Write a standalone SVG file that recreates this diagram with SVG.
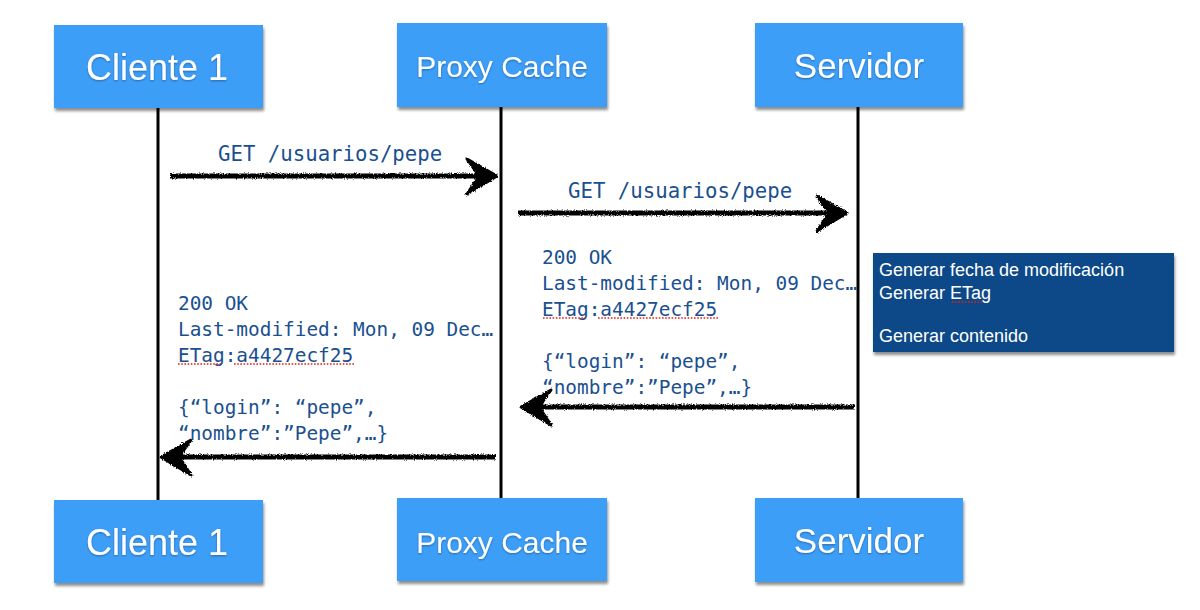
<svg xmlns="http://www.w3.org/2000/svg" width="1200" height="610" viewBox="0 0 1200 610">
<defs>
<style>
.box{fill:#3d9ef8;}
.lbl{font-family:"Liberation Sans",Arial,sans-serif;fill:#ffffff;text-anchor:middle;}
.mono{font-family:"DejaVu Sans Mono",monospace;fill:#1a5090;}
.life{stroke:#000;stroke-width:3;fill:none;}
.shaft{stroke:#000;stroke-width:5;fill:none;}
.head{fill:#000;stroke:#000;stroke-width:3;stroke-linejoin:round;}
.spell{stroke:#e0201c;stroke-width:1.6;stroke-dasharray:1.6 1.6;fill:none;}
.note{font-family:"Liberation Sans",Arial,sans-serif;fill:#ffffff;font-size:18px;}
</style>
<filter id="shadow" x="-5%" y="-5%" width="115%" height="120%">
<feGaussianBlur in="SourceAlpha" stdDeviation="1.8"/>
<feOffset dx="1" dy="3" result="b"/>
<feComponentTransfer><feFuncA type="linear" slope="0.45"/></feComponentTransfer>
<feMerge><feMergeNode/><feMergeNode in="SourceGraphic"/></feMerge>
</filter>
<filter id="tshadow" x="-5%" y="-10%" width="110%" height="130%">
<feGaussianBlur in="SourceAlpha" stdDeviation="1"/>
<feOffset dx="0" dy="1"/>
<feComponentTransfer><feFuncA type="linear" slope="0.35"/></feComponentTransfer>
<feMerge><feMergeNode/><feMergeNode in="SourceGraphic"/></feMerge>
</filter>
<filter id="rough" x="-5%" y="-50%" width="110%" height="200%">
<feTurbulence type="fractalNoise" baseFrequency="0.9" numOctaves="2" seed="3" result="n"/>
<feDisplacementMap in="SourceGraphic" in2="n" scale="3.5" xChannelSelector="R" yChannelSelector="G"/>
</filter>
</defs>
<rect width="1200" height="610" fill="#ffffff"/>

<g id="lifelines">
<line class="life" x1="158" y1="106" x2="158" y2="503"/>
<line class="life" x1="501" y1="105" x2="501" y2="500"/>
<line class="life" x1="858" y1="105" x2="858" y2="500"/>
</g>

<g id="cliente1-top" filter="url(#shadow)">
<rect class="box" x="54" y="25" width="209" height="83"/>
<text class="lbl" x="157" y="80" font-size="36" filter="url(#tshadow)">Cliente 1</text>
</g>
<g id="proxy-top" filter="url(#shadow)">
<rect class="box" x="397" y="23" width="210" height="84"/>
<text class="lbl" x="502" y="77" font-size="30" filter="url(#tshadow)">Proxy Cache</text>
</g>
<g id="servidor-top" filter="url(#shadow)">
<rect class="box" x="755" y="23" width="208" height="84"/>
<text class="lbl" x="859" y="78" font-size="35" filter="url(#tshadow)">Servidor</text>
</g>
<g id="cliente1-bottom" filter="url(#shadow)">
<rect class="box" x="54" y="500" width="209" height="83"/>
<text class="lbl" x="157" y="555" font-size="36" filter="url(#tshadow)">Cliente 1</text>
</g>
<g id="proxy-bottom" filter="url(#shadow)">
<rect class="box" x="397" y="498" width="210" height="83"/>
<text class="lbl" x="502" y="553" font-size="30" filter="url(#tshadow)">Proxy Cache</text>
</g>
<g id="servidor-bottom" filter="url(#shadow)">
<rect class="box" x="755" y="498" width="208" height="84"/>
<text class="lbl" x="859" y="553" font-size="35" filter="url(#tshadow)">Servidor</text>
</g>

<g id="note-servidor">
<rect x="873" y="253" width="301" height="99" fill="#074a88" filter="url(#shadow)"/>
<text class="note" x="879" y="276">Generar fecha de modificación</text>
<text class="note" x="879" y="299">Generar ETag</text>
<text class="note" x="879" y="342">Generar contenido</text>
<line class="spell" x1="952" y1="302" x2="983" y2="302"/>
</g>

<g id="connectors" filter="url(#rough)">
<line class="shaft" x1="170" y1="176" x2="490" y2="176"/>
<polygon class="head" points="497,176 467,159 479,176 467,194"/>
<line class="shaft" x1="518" y1="213" x2="840" y2="213"/>
<polygon class="head" points="847,213 817,196 829,213 817,231"/>
<line class="shaft" x1="855" y1="407" x2="528" y2="407"/>
<polygon class="head" points="521,407 551,390 539,407 551,425"/>
<line class="shaft" x1="496" y1="457" x2="168" y2="457"/>
<polygon class="head" points="161,457 191,440 179,457 191,475"/>
</g>

<g id="labels">
<text class="mono" x="218" y="161" font-size="20.7">GET /usuarios/pepe</text>
<text class="mono" x="568" y="198" font-size="20.7">GET /usuarios/pepe</text>

<text class="mono" font-size="19.4">
<tspan x="542" y="264">200 OK</tspan>
<tspan x="542" y="290">Last-modified: Mon, 09 Dec…</tspan>
<tspan x="542" y="316">ETag:a4427ecf25</tspan>
<tspan x="542" y="368">{“login”: “pepe”,</tspan>
<tspan x="542" y="394">“nombre”:”Pepe”,…}</tspan>
</text>
<line class="spell" x1="543" y1="318" x2="586" y2="318"/>
<line class="spell" x1="598" y1="318" x2="718" y2="318"/>

<text class="mono" font-size="19.4">
<tspan x="178" y="310">200 OK</tspan>
<tspan x="178" y="336">Last-modified: Mon, 09 Dec…</tspan>
<tspan x="178" y="362">ETag:a4427ecf25</tspan>
<tspan x="178" y="414">{“login”: “pepe”,</tspan>
<tspan x="178" y="440">“nombre”:”Pepe”,…}</tspan>
</text>
<line class="spell" x1="178" y1="364" x2="222" y2="364"/>
<line class="spell" x1="234" y1="364" x2="354" y2="364"/>
</g>
</svg>
